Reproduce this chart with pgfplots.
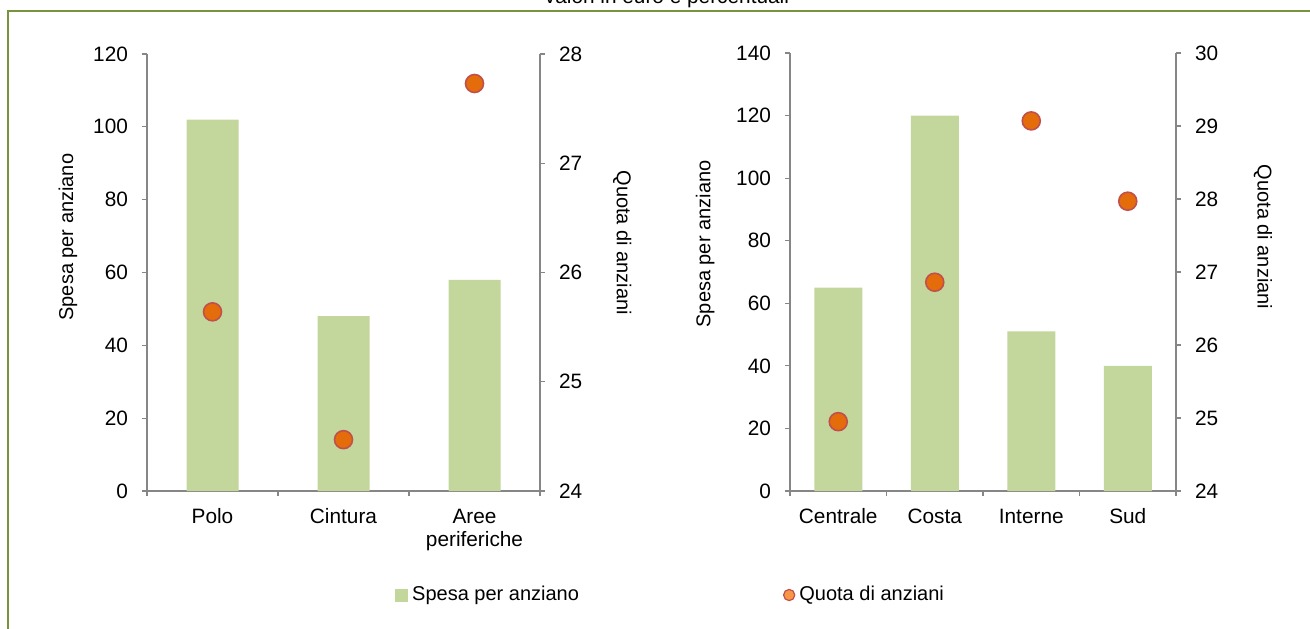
\documentclass[border=0pt]{standalone}
\usepackage{pgfplots}
\pgfplotsset{compat=1.18}
\usepackage{fontspec}
\setmainfont{Liberation Sans}

\definecolor{barg}{HTML}{C3D69B}
\definecolor{dotor}{HTML}{E46C0A}
\definecolor{dotedge}{HTML}{C0504D}
\definecolor{legor}{HTML}{F79646}
\definecolor{frameg}{HTML}{77933C}
\definecolor{axgray}{HTML}{868686}

\pgfplotsset{
  base/.style={
    scale only axis,
    anchor=south west,
    /pgf/number format/assume math mode=true,
    tick label style={font=\fontsize{10.4}{11.6}\selectfont, text=black},
    label style={font=\fontsize{10}{12}\selectfont},
    axis line style={axgray, line width=0.6pt},
    tick style={axgray, line width=0.6pt},
    tick align=outside,
    major tick length=2.5pt,
    minor tick length=2.5pt,
  },
  bars/.style={
    base,
    axis y line*=left, axis x line*=bottom,
    ymin=0,
    major x tick style={draw=none},
    xticklabel style={align=center, anchor=north, yshift=-2pt},
    yticklabel style={xshift=-3.5pt},
    ylabel={Spesa per anziano},
  },
  dots/.style={
    base,
    axis y line*=right, axis x line=none,
    yticklabel style={xshift=3.5pt},
    ylabel={Quota di anziani},
  },
  dotplot/.style={only marks, mark=*, mark size=4.5pt,
    mark options={fill=dotor, draw=dotedge, line width=0.8pt}},
}

\begin{document}
\begin{tikzpicture}
\useasboundingbox (0,0) rectangle (655pt,314pt);

% frame and title
\draw[frameg, line width=1.2pt] (4pt,-10pt) -- (4pt,308.5pt) -- (670pt,308.5pt);
\node[anchor=base, font=\fontsize{10.4}{12}\selectfont] at (333pt,312pt) {Valori in euro e percentuali};

% left panel
\begin{axis}[bars, at={(73.5pt,68.5pt)}, width=196.5pt, height=218.5pt,
  xmin=-0.5, xmax=2.5, ymax=120, ytick={0,20,...,120},
  xtick={0,1,2}, xticklabels={\strut Polo,\strut Cintura,{\strut Aree\\periferiche}},
  minor xtick={-0.5,0.5,1.5,2.5},
  ylabel style={at={(axis description cs:-0.201,0.581)}, anchor=center}]
  \addplot[ybar, bar width=26pt, fill=barg, draw=none]
    coordinates {(0,102) (1,48) (2,58)};
\end{axis}
\begin{axis}[dots, at={(73.5pt,68.5pt)}, width=196.5pt, height=218.5pt,
  xmin=-0.5, xmax=2.5, ymin=24, ymax=28, ytick={24,...,28},
  ylabel style={rotate=180, at={(axis description cs:1.209,0.568)}, anchor=center},
  legend style={at={(axis description cs:0.631,-0.238)}, anchor=west,
    draw=none, fill=none, inner sep=0pt, font=\fontsize{10}{12}\selectfont,
    column sep=0pt,
    /tikz/every even column/.append style={column sep=100pt}},
  legend columns=2]
  \addplot[dotplot, forget plot] coordinates {(0,25.64) (1,24.47) (2,27.73)};
  \addlegendimage{legend image code/.code={\fill[barg] (0pt,-3pt) rectangle (6pt,3pt);}}
  \addlegendentry{Spesa per anziano}
  \addlegendimage{legend image code/.code={\filldraw[fill=legor, draw=dotedge, line width=0.6pt] (3pt,0pt) circle (2.8pt);}}
  \addlegendentry{Quota di anziani}
\end{axis}

% right panel
\begin{axis}[bars, at={(395pt,68.5pt)}, width=193pt, height=219pt,
  xmin=-0.5, xmax=3.5, ymax=140, ytick={0,20,...,140},
  xtick={0,1,2,3}, xticklabels={\strut Centrale,\strut Costa,\strut Interne,\strut Sud},
  minor xtick={-0.5,0.5,1.5,2.5,3.5},
  ylabel style={at={(axis description cs:-0.220,0.564)}, anchor=center}]
  \addplot[ybar, bar width=24pt, fill=barg, draw=none]
    coordinates {(0,65) (1,120) (2,51) (3,40)};
\end{axis}
\begin{axis}[dots, at={(395pt,68.5pt)}, width=193pt, height=219pt,
  xmin=-0.5, xmax=3.5, ymin=24, ymax=30, ytick={24,...,30},
  ylabel style={rotate=180, at={(axis description cs:1.225,0.580)}, anchor=center}]
  \addplot[dotplot] coordinates {(0,24.95) (1,26.86) (2,29.07) (3,27.97)};
\end{axis}
\end{tikzpicture}
\end{document}
